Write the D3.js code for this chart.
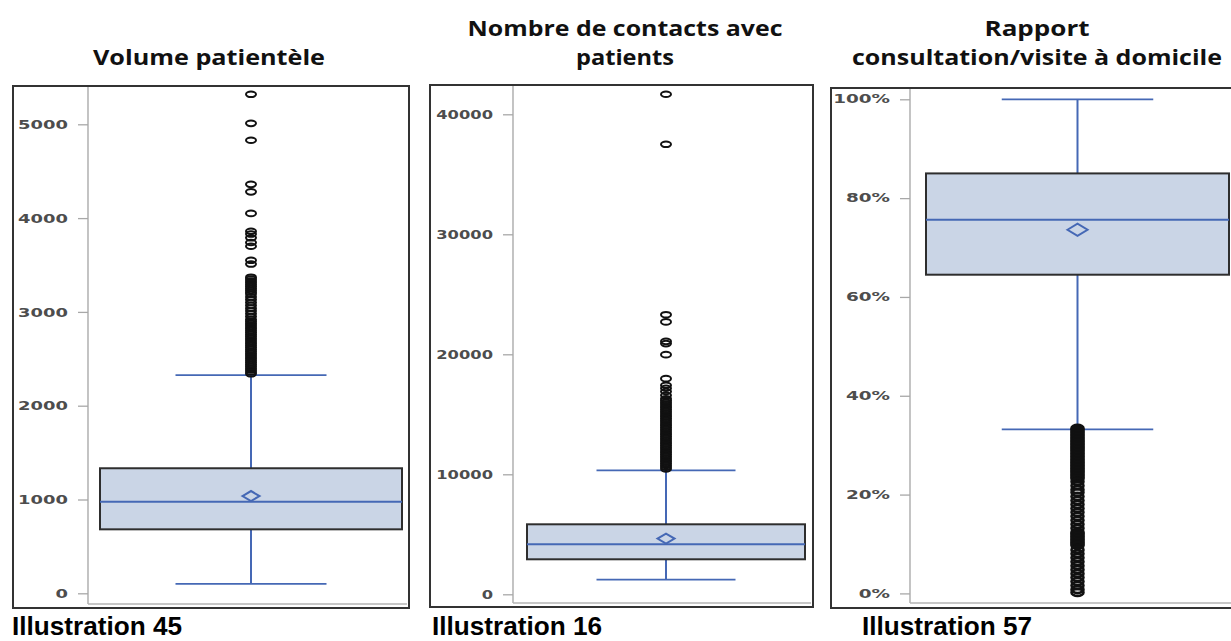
<!DOCTYPE html>
<html>
<head>
<meta charset="utf-8">
<script src="https://cdn.jsdelivr.net/npm/d3@7"></script>
<style>
  html, body { margin: 0; padding: 0; background: #fff; }
  svg { display: block; }
</style>
</head>
<body>
<svg id="chart" width="1231" height="641"></svg>
<script>
// ---- Data -------------------------------------------------------------
const categories = ["Volume patientèle", "Nombre de contacts avec patients", "Rapport consultation/visite à domicile"];
const titleLines = [["Volume patientèle"], ["Nombre de contacts avec", "patients"], ["Rapport", "consultation/visite à domicile"]];
const captions = ["Illustration 45", "Illustration 16", "Illustration 57"];

const tickValues1 = [0, 1000, 2000, 3000, 4000, 5000];
const tickValues2 = [0, 10000, 20000, 30000, 40000];
const tickValues3 = [0, 20, 40, 60, 80, 100];

// box summaries: [whiskerLow, q1, median, q3, whiskerHigh]
const summary1 = [100, 682, 977, 1333, 2327];
const summary2 = [1225, 2917, 4170, 5833, 10330];
const summary3 = [33.2, 64.5, 75.6, 85.0, 100];
const means = [1037, 4640, 73.6];

const outliers1 = [5320, 5010, 4830, 4360, 4280, 4050, 3860, 3830, 3790, 3740, 3700, 3550, 3510,
  3370, 3350, 3330, 3310, 3290, 3270, 3250, 3230, 3210, 3190, 3160, 3130, 3100, 3070, 3040, 3010,
  2980, 2950, 2920, 2900, 2880, 2860, 2840, 2820, 2800, 2780, 2760, 2740, 2720, 2700, 2680, 2660,
  2640, 2620, 2600, 2580, 2560, 2540, 2520, 2500, 2480, 2460, 2440, 2420, 2400, 2380, 2360, 2340];
const outliers2 = [41670, 37500, 23300, 22700, 21080, 20890, 19970, 17970, 17420, 17170, 16900, 16580,
  16300, 16150, 16000, 15850, 15700, 15550, 15400, 15250, 15100, 14950, 14800, 14650, 14500, 14350,
  14200, 14050, 13900, 13750, 13600, 13450, 13300, 13150, 13000, 12850, 12700, 12550, 12400, 12250,
  12100, 11950, 11800, 11650, 11500, 11350, 11200, 11050, 10900, 10750, 10600, 10450];
const outliers3 = [33.4, 33.1, 32.8, 32.5, 32.2, 31.9, 31.6, 31.3, 31.0, 30.7, 30.4, 30.1, 29.8, 29.5,
  29.2, 28.9, 28.6, 28.3, 28.0, 27.7, 27.4, 27.1, 26.8, 26.5, 26.2, 25.9, 25.6, 25.3, 25.0, 24.7,
  24.4, 24.1, 23.8, 23.5, 23.2,
  22.6, 21.8, 21.0, 20.4, 19.6, 18.8, 18.0, 17.2, 16.4, 15.6, 14.8, 14.0, 13.2,
  12.4, 12.1, 11.8, 11.5, 11.2, 10.9, 10.6, 10.3, 10.0, 9.7,
  8.8, 8.0, 7.2, 6.4, 5.6, 4.8, 4.0, 3.2, 2.4, 1.6, 0.8, 0.2];

// ---- Layout and style -------------------------------------------------
const panels = [
  { cat: categories[0], lines: titleLines[0], caption: captions[0], ticks: tickValues1, fmt: d => String(d),
    stats: summary1, mean: means[0], outliers: outliers1,
    frame: [13, 86, 409, 608], axisX: 88, axisY: 604, box: [100, 402], domain: [0, 5000], range: [593.3, 124.3],
    titleX: 209, titleW: [232], captionX: 12,
    tickFont: 13, tickScale: 1.38, rx: 5, ry: 2.8, sw: 2, dw: 17, dh: 10 },
  { cat: categories[1], lines: titleLines[1], caption: captions[1], ticks: tickValues2, fmt: d => String(d),
    stats: summary2, mean: means[1], outliers: outliers2,
    frame: [430, 85, 813, 607], axisX: 513, axisY: 603, box: [527, 805], domain: [0, 40000], range: [594.3, 114.3],
    titleX: 625, titleW: [315, 98], captionX: 432,
    tickFont: 12, tickScale: 1.36, rx: 5, ry: 2.8, sw: 2, dw: 17, dh: 10 },
  { cat: categories[2], lines: titleLines[2], caption: captions[2], ticks: tickValues3, fmt: d => d + "%",
    stats: summary3, mean: means[2], outliers: outliers3,
    frame: [831, 88, 1240, 608], axisX: 910, axisY: 603, box: [926, 1229], domain: [0, 100], range: [593.4, 99.3],
    titleX: 1037, titleW: [105, 370], captionX: 862,
    tickFont: 11.5, tickScale: 1.6, rx: 6, ry: 3.5, sw: 2.6, dw: 20, dh: 12 }
];

const BLUE = "#4568b5";
const BOX_FILL = "#cad5e6";
const FRAME = "#333";
const AXIS_GRAY = "#b5b5b5";

const svg = d3.select("#chart");

panels.forEach(p => {
  const g = svg.append("g");
  const [fx0, fy0, fx1, fy1] = p.frame;

  const y = d3.scaleLinear().domain(p.domain).range(p.range);
  const x = d3.scaleBand().domain([p.cat]).range(p.box).padding(0);
  const cx = x(p.cat) + x.bandwidth() / 2;
  const bw = x.bandwidth();
  const capHalf = bw * 0.25;

  // Titles
  const titleBase = p.lines.length === 1 ? [65] : [36, 65];
  p.lines.forEach((t, i) => {
    g.append("text")
      .attr("x", p.titleX).attr("y", titleBase[i])
      .attr("text-anchor", "middle")
      .attr("font-family", "'Open Sans', sans-serif")
      .attr("font-weight", 700).attr("font-size", 22)
      .attr("textLength", p.titleW[i]).attr("lengthAdjust", "spacingAndGlyphs")
      .attr("fill", "#111")
      .text(t);
  });

  // Light axis lines inside the frame
  g.append("line")
    .attr("x1", p.axisX).attr("x2", p.axisX).attr("y1", fy0).attr("y2", p.axisY)
    .attr("stroke", AXIS_GRAY).attr("stroke-width", 1.6);
  g.append("line")
    .attr("x1", p.axisX).attr("x2", fx1 - 2).attr("y1", p.axisY).attr("y2", p.axisY)
    .attr("stroke", AXIS_GRAY).attr("stroke-width", 1.6);

  // Y axis
  const axis = d3.axisLeft(y).tickValues(p.ticks).tickFormat(p.fmt).tickSize(10).tickPadding(10);
  const ax = g.append("g").attr("transform", `translate(${p.axisX},0)`).call(axis);
  ax.select(".domain").remove();
  ax.selectAll(".tick line").attr("stroke", "#a8a8a8").attr("stroke-width", 1.3);
  ax.selectAll(".tick text")
    .attr("x", null)
    .attr("transform", `translate(-20,0) scale(${p.tickScale},1)`)
    .attr("font-family", "'DejaVu Sans', sans-serif")
    .attr("font-weight", 700)
    .attr("font-size", p.tickFont)
    .attr("fill", "#4d4d4d");

  // Whiskers
  const [lo, q1, med, q3, hi] = p.stats;
  g.append("line").attr("x1", cx).attr("x2", cx).attr("y1", y(hi)).attr("y2", y(q3))
    .attr("stroke", BLUE).attr("stroke-width", 2);
  g.append("line").attr("x1", cx).attr("x2", cx).attr("y1", y(q1)).attr("y2", y(lo))
    .attr("stroke", BLUE).attr("stroke-width", 2);
  [hi, lo].forEach(v => {
    g.append("line").attr("x1", cx - capHalf).attr("x2", cx + capHalf).attr("y1", y(v)).attr("y2", y(v))
      .attr("stroke", BLUE).attr("stroke-width", 1.8);
  });

  // Box
  g.append("rect")
    .attr("x", x(p.cat)).attr("y", y(q3))
    .attr("width", bw).attr("height", y(q1) - y(q3))
    .attr("fill", BOX_FILL).attr("stroke", "#2e2e2e").attr("stroke-width", 2);
  g.append("line").attr("x1", x(p.cat)).attr("x2", x(p.cat) + bw).attr("y1", y(med)).attr("y2", y(med))
    .attr("stroke", BLUE).attr("stroke-width", 2);

  // Mean marker
  const my = y(p.mean);
  g.append("path")
    .attr("d", `M${cx - p.dw / 2},${my} L${cx},${my - p.dh / 2} L${cx + p.dw / 2},${my} L${cx},${my + p.dh / 2} Z`)
    .attr("fill", "none").attr("stroke", BLUE).attr("stroke-width", 2);

  // Outliers
  g.append("g").selectAll("ellipse").data(p.outliers).join("ellipse")
    .attr("cx", cx).attr("cy", d => y(d))
    .attr("rx", p.rx).attr("ry", p.ry)
    .attr("fill", "none").attr("stroke", "#111").attr("stroke-width", p.sw);

  // Frame
  g.append("rect")
    .attr("x", fx0).attr("y", fy0).attr("width", fx1 - fx0).attr("height", fy1 - fy0)
    .attr("fill", "none").attr("stroke", FRAME).attr("stroke-width", 2);

  // Caption
  g.append("text")
    .attr("x", p.captionX).attr("y", 635)
    .attr("font-family", "'Liberation Sans', Arial, sans-serif")
    .attr("font-weight", 700).attr("font-size", 25.5)
    .attr("textLength", 170).attr("lengthAdjust", "spacingAndGlyphs")
    .attr("fill", "#000")
    .text(p.caption);
});
</script>
</body>
</html>
